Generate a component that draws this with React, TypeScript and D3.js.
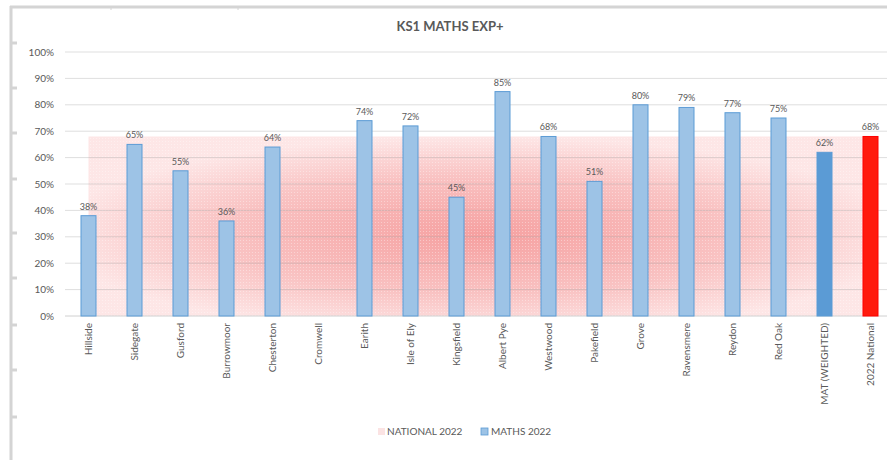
import * as d3 from "d3";

const categories = [
  "Hillside", "Sidegate", "Gusford", "Burrowmoor", "Chesterton", "Cromwell",
  "Earith", "Isle of Ely", "Kingsfield", "Albert Pye", "Westwood", "Pakefield",
  "Grove", "Ravensmere", "Reydon", "Red Oak", "MAT (WEIGHTED)", "2022 National",
];
const maths2022: (number | null)[] = [
  38, 65, 55, 36, 64, null, 74, 72, 45, 85, 68, 51, 80, 79, 77, 75, 62, 68,
];
const national2022 = [68, 68, 68, 68, 68, 68, 68, 68, 68, 68, 68, 68, 68, 68, 68, 68, 68, 68];
const yTicks = [0, 10, 20, 30, 40, 50, 60, 70, 80, 90, 100];
const frameTicks = [43, 88, 133, 179, 233, 278, 325, 370, 417];

const W = 887;
const H = 460;
const font = "Lato, 'Open Sans', sans-serif";

const App = () => {
  const x = d3.scaleBand<string>().domain(categories).range([65.5, 893.5]);
  const y = d3.scaleLinear().domain([0, 100]).range([316, 52]);
  const cx = (c: string) => (x(c) || 0) + x.bandwidth() / 2;
  const barW = 15;

  const area = d3
    .area<number>()
    .x((_, i) => cx(categories[i]))
    .y0(y(0))
    .y1((d) => y(d));

  const barFill = (c: string) =>
    c === "2022 National" ? "#ff1a0d" : c === "MAT (WEIGHTED)" ? "#5b9bd5" : "#9dc3e6";
  const barStroke = (c: string) =>
    c === "2022 National" ? "#ff0000" : "#5b9bd5";

  return (
    <svg
      width={W}
      height={H}
      style={{ position: "absolute", left: 0, top: 0, background: "#fff" }}
      fontFamily={font}
    >
      <defs>
        <radialGradient id="natGrad" cx="0.5" cy="0.55" r="0.55">
          <stop offset="0" stopColor="#f48f8f" />
          <stop offset="0.6" stopColor="#f8b8b8" />
          <stop offset="1" stopColor="#fde2e2" />
        </radialGradient>
        <pattern id="dots" width="3" height="3" patternUnits="userSpaceOnUse">
          <rect width="1" height="1" fill="#ffffff" opacity="0.35" />
        </pattern>
        <clipPath id="clip">
          <rect x={0} y={0} width={W} height={H} />
        </clipPath>
      </defs>

      {/* worksheet frame */}
      <line x1={10} x2={W} y1={7} y2={7} stroke="#d4d4d4" strokeWidth={3} />
      <line x1={11} x2={11} y1={6} y2={H} stroke="#d4d4d4" strokeWidth={3} />
      {frameTicks.map((t) => (
        <line key={t} x1={11} x2={17} y1={t} y2={t} stroke="#d4d4d4" strokeWidth={3} />
      ))}
      <line x1={111} x2={111} y1={8} y2={10} stroke="#d4d4d4" />
      <line x1={238} x2={238} y1={8} y2={10} stroke="#d4d4d4" />

      <text x={450} y={31} textAnchor="middle" fontSize={13} fontWeight="bold" fill="#595959">
        KS1 MATHS EXP+
      </text>

      <g clipPath="url(#clip)">
        {/* national area */}
        <path d={area(national2022) || ""} fill="url(#natGrad)" opacity={0.85} />
        <path d={area(national2022) || ""} fill="url(#dots)" />

        {/* gridlines */}
        {yTicks.map((t) => (
          <line
            key={t}
            x1={65}
            x2={887}
            y1={y(t)}
            y2={y(t)}
            stroke={t === 0 ? "#d0d0d0" : "rgba(160,160,160,0.35)"}
            strokeWidth={1}
          />
        ))}

        {/* bars */}
        {categories.map((c, i) => {
          const v = maths2022[i];
          if (v == null) return null;
          return (
            <g key={c}>
              <rect
                x={cx(c) - barW / 2}
                y={y(v)}
                width={barW}
                height={y(0) - y(v)}
                fill={barFill(c)}
                stroke={barStroke(c)}
                strokeWidth={1}
              />
              <text
                x={cx(c)}
                y={y(v) - 6}
                textAnchor="middle"
                fontSize={9}
                fill="#595959"
              >
                {v}%
              </text>
            </g>
          );
        })}
      </g>

      {/* y axis labels */}
      {yTicks.map((t) => (
        <text key={t} x={54} y={y(t) + 3.5} textAnchor="end" fontSize={10} fill="#595959">
          {t}%
        </text>
      ))}

      {/* category labels */}
      {categories.map((c) => (
        <text
          key={c}
          transform={`translate(${cx(c) + 3.5},${y(0) + 7}) rotate(-90)`}
          textAnchor="end"
          fontSize={10}
          fill="#595959"
        >
          {c}
        </text>
      ))}

      {/* legend */}
      <rect x={378} y={428} width={7} height={7} fill="#fbe3e3" />
      <text x={387} y={435} fontSize={10} fill="#595959">NATIONAL 2022</text>
      <rect x={481} y={428} width={7} height={7} fill="#9dc3e6" stroke="#5b9bd5" strokeWidth={0.8} />
      <text x={491} y={435} fontSize={10} fill="#595959">MATHS 2022</text>
    </svg>
  );
};

export default App;
